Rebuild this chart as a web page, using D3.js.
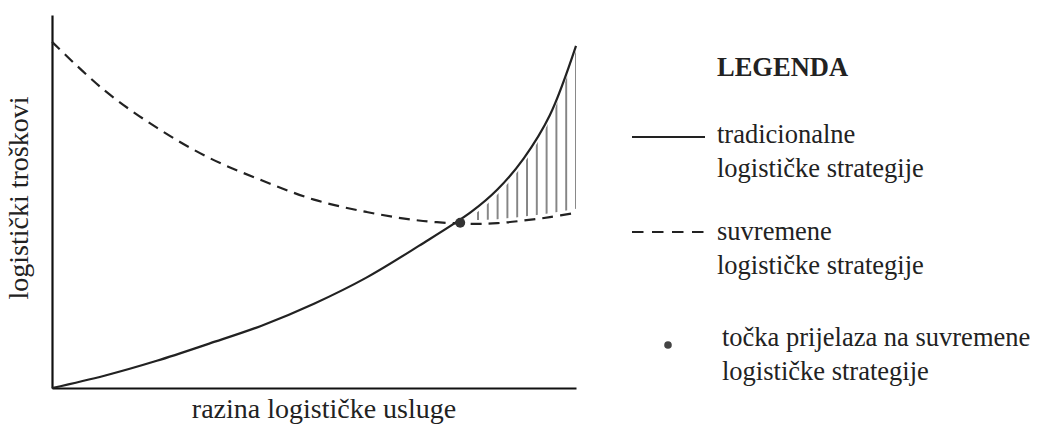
<!DOCTYPE html>
<html>
<head>
<meta charset="utf-8">
<script src="https://cdn.jsdelivr.net/npm/d3@7"></script>
<style>
  html, body { margin: 0; padding: 0; background: #fff; }
  svg { display: block; }
</style>
</head>
<body>
<svg id="chart" width="1039" height="427"></svg>
<script>
// ---- data (arbitrary units) ----
const serviceLevel    = [0,    1,    2,    3,    4,    5,    6,    7,    8,    8.5,  9,    9.5,  10];
const traditionalCost = [0,    3.3,  7.3,  11.9, 16.7, 22.6, 29.6, 38.1, 47.2, 53.2, 61.5, 73.1, 91.7];
const modernCost      = [92.8, 79.8, 69.8, 61.7, 55.7, 50.5, 47.2, 44.9, 44.0, 44.2, 44.9, 45.8, 47.0];
const switchPoint = [7.79, 44.3];
const hatchStart = 8.13;
const xAxisTitle = "razina logističke usluge";
const yAxisTitle = "logistički troškovi";
const legendTitle = "LEGENDA";
const legendItems = [
  { type: "solid", lines: ["tradicionalne", "logističke strategije"] },
  { type: "dashed", lines: ["suvremene", "logističke strategije"] },
  { type: "dot", lines: ["točka prijelaza na suvremene", "logističke strategije"] }
];

const FONT = "'Liberation Serif', Tinos, 'Times New Roman', serif";

const svg = d3.select("#chart");
const x = d3.scaleLinear().domain([0, 10]).range([52, 576]);
const y = d3.scaleLinear().domain([0, 100]).range([388, 15]);

const data = serviceLevel.map((s, i) => ({ s, t: traditionalCost[i], m: modernCost[i] }));

// hatch pattern
const defs = svg.append("defs");
const pat = defs.append("pattern")
  .attr("id", "hatch").attr("patternUnits", "userSpaceOnUse")
  .attr("x", x(hatchStart) - 1).attr("y", 0).attr("width", 9.8).attr("height", 427);
pat.append("line").attr("x1", 1).attr("x2", 1).attr("y1", 0).attr("y2", 427)
  .attr("stroke", "#555").attr("stroke-width", 1.4);
defs.append("clipPath").attr("id", "hatchClip")
  .append("rect").attr("x", x(hatchStart) - 2).attr("y", 0)
  .attr("width", x(10) - x(hatchStart) + 4).attr("height", 427);

const curve = d3.curveCatmullRom.alpha(0.5);
const area = d3.area()
  .x(d => x(d.s))
  .y0(d => y(d.m) - 4)
  .y1(d => y(d.t) + 5)
  .curve(curve);
svg.append("path").datum(data.filter(d => d.s >= 7))
  .attr("d", area).attr("fill", "url(#hatch)").attr("clip-path", "url(#hatchClip)");

// axes (no ticks)
const xAxis = d3.axisBottom(x).tickValues([]).tickSizeOuter(0);
const yAxis = d3.axisLeft(y).tickValues([]).tickSizeOuter(0);
svg.append("g").attr("transform", `translate(0,${y(0)})`).call(xAxis)
  .select(".domain").attr("stroke", "#111").attr("stroke-width", 2.2);
svg.append("g").attr("transform", `translate(${x(0)},0)`).call(yAxis)
  .select(".domain").attr("stroke", "#111").attr("stroke-width", 2.2);

// curves
const lineT = d3.line().x(d => x(d.s)).y(d => y(d.t)).curve(curve);
const lineM = d3.line().x(d => x(d.s)).y(d => y(d.m)).curve(curve);
svg.append("path").datum(data).attr("d", lineM)
  .attr("fill", "none").attr("stroke", "#222").attr("stroke-width", 2.2)
  .attr("stroke-dasharray", "11,7");
svg.append("path").datum(data).attr("d", lineT)
  .attr("fill", "none").attr("stroke", "#222").attr("stroke-width", 2.2);

svg.append("circle").attr("cx", x(switchPoint[0])).attr("cy", y(switchPoint[1]))
  .attr("r", 5).attr("fill", "#333");

function txt(sel) {
  return sel.append("text").attr("fill", "#222").style("font-family", FONT);
}

// axis titles
txt(svg).attr("x", 324).attr("y", 418).attr("text-anchor", "middle")
  .attr("font-size", 28).text(xAxisTitle);
txt(svg).attr("transform", "translate(28,198) rotate(-90)")
  .attr("text-anchor", "middle").attr("font-size", 28).text(yAxisTitle);

// legend
txt(svg).attr("x", 717).attr("y", 76).attr("font-size", 26.5)
  .attr("font-weight", "bold").text(legendTitle);

const legendY = [143, 240, 346];
legendItems.forEach((it, i) => {
  const by = legendY[i];
  const g = svg.append("g");
  if (it.type === "solid") {
    g.append("line").attr("x1", 632).attr("x2", 705).attr("y1", by - 6).attr("y2", by - 6)
      .attr("stroke", "#222").attr("stroke-width", 2);
  } else if (it.type === "dashed") {
    g.append("line").attr("x1", 632).attr("x2", 705).attr("y1", by - 8).attr("y2", by - 8)
      .attr("stroke", "#222").attr("stroke-width", 2).attr("stroke-dasharray", "11.5,8.5");
  } else {
    g.append("circle").attr("cx", 668).attr("cy", by - 1).attr("r", 3.8).attr("fill", "#444");
  }
  const tx = it.type === "dot" ? 722 : 717;
  it.lines.forEach((ln, j) => {
    txt(g).attr("x", tx).attr("y", by + j * 34).attr("font-size", 26.5).text(ln);
  });
});
</script>
</body>
</html>
